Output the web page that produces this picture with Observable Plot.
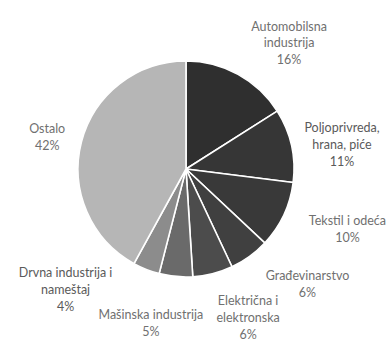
<!DOCTYPE html>
<html>
<head>
<meta charset="utf-8">
<script src="https://cdn.jsdelivr.net/npm/d3@7"></script>
<script src="https://cdn.jsdelivr.net/npm/@observablehq/plot@0.6"></script>
<style>
  html, body { margin: 0; padding: 0; background: #fff; }
  #chart svg { display: block; }
</style>
</head>
<body>
<div id="chart"></div>
<script>
// Data
const categories = ["Automobilsna industrija", "Poljoprivreda, hrana, piće", "Tekstil i odeća", "Građevinarstvo", "Električna i elektronska", "Mašinska industrija", "Drvna industrija i nameštaj", "Ostalo"];
const shares = [16, 11, 10, 6, 6, 5, 4, 42];
const labelTexts = ["Automobilsna\nindustrija\n16%", "Poljoprivreda,\nhrana, piće\n11%", "Tekstil i odeća\n10%", "Građevinarstvo\n6%", "Električna i\nelektronska\n6%", "Mašinska industrija\n5%", "Drvna industrija i\nnameštaj\n4%", "Ostalo\n42%"];

// Styles / layout (radius units, centre 0,0, up positive)
const sliceColors = ["#2f2f2f", "#363636", "#393939", "#404040", "#4c4c4c", "#6a6a6a", "#8c8c8c", "#b6b6b6"];
const labelX = [0.95, 1.44, 1.49, 1.12, 0.57, -0.33, -1.12, -1.29];
const labelY = [1.18, 0.24, -0.54, -1.05, -1.36, -1.41, -1.10, 0.31];
const labelColors = ["#707070", "#5a5a5a", "#707070", "#707070", "#707070", "#707070", "#5a5a5a", "#707070"];

const W = 389, H = 341, cx = 186, cy = 169, R = 108;

const slices = d3.pie().sort(null).value(d => d.share)(
  categories.map((c, i) => ({category: c, share: shares[i], color: sliceColors[i]}))
);
const labels = labelTexts.map((t, i) => ({text: t, x: labelX[i], y: labelY[i], color: labelColors[i]}));

function pieMark(index, scales) {
  const x0 = scales.x(0), y0 = scales.y(0);
  const r = Math.abs(scales.x(1) - scales.x(0));
  const arc = d3.arc().innerRadius(0).outerRadius(r);
  const g = d3.create("svg:g").attr("transform", `translate(${x0},${y0})`);
  g.selectAll("path").data(slices).join("path")
    .attr("d", arc)
    .attr("fill", d => d.data.color)
    .attr("stroke", "#fff")
    .attr("stroke-width", 1.6)
    .attr("stroke-linejoin", "round");
  return g.node();
}

const chart = Plot.plot({
  width: W,
  height: H,
  margin: 0,
  x: {type: "linear", domain: [-1, 1], range: [cx - R, cx + R], axis: null},
  y: {type: "linear", domain: [1, -1], range: [cy - R, cy + R], axis: null},
  style: {background: "#fff"},
  marks: [
    pieMark,
    Plot.text(labels, {
      x: "x", y: "y", text: "text",
      fill: "color",
      fontFamily: "Lato, 'Open Sans', sans-serif",
      fontSize: 12.5,
      lineHeight: 1.35,
      textAnchor: "middle"
    })
  ]
});
document.getElementById("chart").appendChild(chart);
</script>
</body>
</html>
